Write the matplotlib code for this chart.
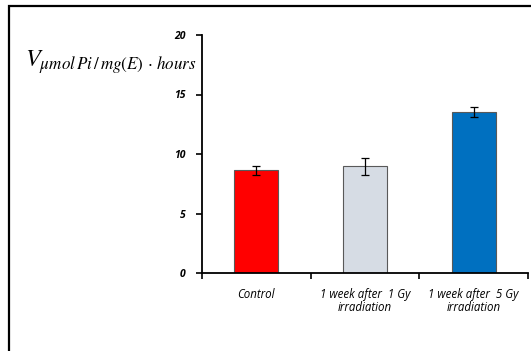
import matplotlib
matplotlib.use("Agg")
import matplotlib.pyplot as plt
import matplotlib.patches as mpatches
import numpy as np

categories = ["Control", "1 week after  1 Gy\nirradiation", "1 week after  5 Gy\nirradiation"]
values = [8.65, 8.95, 13.5]
errors = [0.38, 0.75, 0.42]
colors = ["#FF0000", "#D6DCE4", "#0070C0"]
yticks = [0, 5, 10, 15, 20]

plt.rcParams["mathtext.fontset"] = "stix"

fig = plt.figure(figsize=(5.31, 3.51), dpi=100)
ax = fig.add_axes([202/531, 1 - 273/351, 326/531, 238/351])

x = np.arange(len(values)) + 0.5
ax.bar(x, values, width=0.405, color=colors, edgecolor="#595959", linewidth=0.8, zorder=2)
ax.errorbar(x, values, yerr=errors, fmt="none", ecolor="black", elinewidth=0.9,
            capsize=3, capthick=0.9, zorder=3)

ax.set_xlim(0, 3)
ax.set_ylim(0, 20)
ax.set_yticks(yticks)
ax.set_yticklabels([str(t) for t in yticks], fontstyle="italic", fontweight="bold",
                   fontsize=7.5, fontfamily="Open Sans")
ax.set_xticks([0, 1, 2, 3])
ax.set_xticklabels([])
ax.set_xticks(x, minor=True)
ax.set_xticklabels(categories, minor=True, fontstyle="italic", fontsize=8.3,
                   fontfamily="Open Sans", linespacing=1.0)
ax.tick_params(axis="x", which="minor", length=0, pad=11)
ax.tick_params(axis="x", which="major", length=4, width=1.2, direction="out")
ax.tick_params(axis="y", length=4, width=1.2, direction="out", pad=8)
for side in ["top", "right"]:
    ax.spines[side].set_visible(False)
for side in ["left", "bottom"]:
    ax.spines[side].set_linewidth(1.3)

fig.text(25/531, 1 - 67/351, r"$V_{\mu mol\,Pi\,/\,mg(E)\,\cdot\,hours}$",
         fontsize=17.5, ha="left", va="baseline")

# chart frame
frame = mpatches.Rectangle((9/531, -0.1), 1.1, 1 - 6/351 + 0.1, transform=fig.transFigure,
                           fill=False, edgecolor="black", linewidth=1.6)
fig.patches.append(frame)

fig.savefig("out.png", dpi=100)
